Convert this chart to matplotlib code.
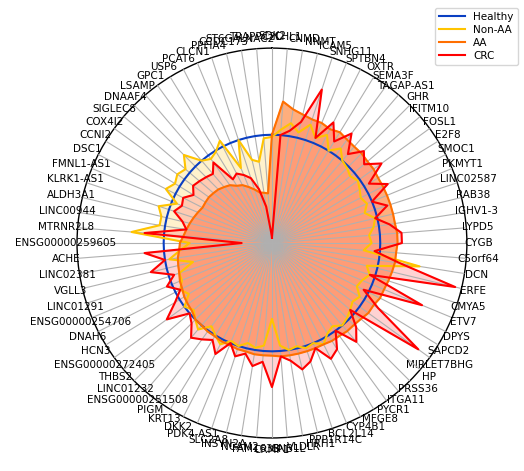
import numpy as np
import matplotlib
matplotlib.use("Agg")
import matplotlib.pyplot as plt

genes = [
    "SDK2", "CHL1", "CNMD", "NNMT", "ICAM5", "SNHG11", "SPTBN4", "OXTR", "SEMA3F", "TAGAP-AS1",
    "GHR", "IFITM10", "FOSL1", "E2F8", "SMOC1", "PKMYT1", "LINC02587", "RAB38", "IGHV1-3", "LYPD5",
    "CYGB", "C5orf64", "DCN", "ERFE", "CMYA5", "ETV7", "DPYS", "SAPCD2", "MIRLET7BHG", "HP",
    "PRSS36", "ITGA11", "PYCR1", "MFGE8", "CYP4B1", "BCL2L14", "PPP1R14C", "HRH1", "VLDLR", "GNB1L",
    "CRMP1", "FAM163B", "NCAM2", "INSYN2A", "SLC2A8", "PDK4-AS1", "DKK2", "KRT13", "PIGM", "ENSG00000251508",
    "LINC01232", "THBS2", "ENSG00000272405", "HCN3", "DNAH6", "ENSG00000254706", "LINC01291", "VGLL3", "LINC02381", "ACHE",
    "ENSG00000259605", "MTRNR2L8", "LINC00944", "ALDH3A1", "KLRK1-AS1", "FMNL1-AS1", "DSC1", "CCNI2", "COX4I2", "SIGLEC8",
    "DNAAF4", "LSAMP", "GPC1", "USP6", "PCAT6", "CLCN1", "PPFIA4", "CCDC173", "ST6GALNAC2", "TRAPPC2L",
]

healthy = [1.0] * len(genes)

non_aa = [
    0.98, 1.05, 1.12, 1.05, 1.15, 1.05, 1.12, 1.0, 1.08, 1.0,
    0.98, 0.95, 0.98, 0.95, 0.92, 0.95, 0.9, 0.98, 0.95, 0.9,
    0.92, 0.85, 1.38, 0.9, 0.95, 0.9, 0.88, 0.95, 0.92, 0.95,
    0.98, 1.0, 0.95, 0.98, 1.05, 1.0, 1.02, 0.98, 1.0, 0.95,
    0.7, 0.95, 0.98, 0.95, 1.0, 0.98, 1.05, 1.0, 0.95, 1.05,
    1.0, 0.95, 1.0, 0.9, 0.95, 0.9, 0.9, 0.75, 0.96, 0.85,
    0.76, 1.3, 1.05, 1.05, 1.1, 0.95, 1.1, 1.05, 1.08, 1.05,
    1.15, 1.0, 0.96, 0.99, 1.06, 0.75, 1.0, 0.79, 0.76, 0.97,
]

aa = [
    1.0, 1.31, 1.25, 1.22, 1.2, 1.2, 1.18, 1.2, 1.18, 1.17,
    1.17, 1.16, 1.16, 1.15, 1.15, 1.15, 1.15, 1.15, 1.15, 1.16,
    1.16, 1.15, 1.15, 1.14, 1.13, 1.12, 1.12, 1.1, 1.1, 1.08,
    1.07, 1.07, 1.06, 1.06, 1.05, 1.05, 1.05, 1.05, 1.05, 1.05,
    1.04, 1.04, 1.04, 1.03, 1.03, 1.02, 1.02, 1.01, 1.01, 1.0,
    1.0, 0.97, 0.96, 0.95, 0.93, 0.92, 0.9, 0.89, 0.88, 0.86,
    0.85, 0.82, 0.8, 0.78, 0.76, 0.74, 0.72, 0.72, 0.72, 0.71,
    0.7, 0.68, 0.66, 0.62, 0.6, 0.56, 0.52, 0.48, 0.47, 0.46,
]

crc = [
    0.05, 1.0, 1.05, 1.15, 1.49, 1.05, 1.25, 1.1, 1.25, 1.08,
    1.2, 1.12, 1.25, 1.05, 1.2, 1.0, 1.12, 0.98, 1.1, 1.2,
    1.2, 0.95, 1.2, 1.74, 0.95, 1.5, 0.95, 1.15, 1.67, 0.95,
    1.1, 1.2, 1.0, 1.15, 1.2, 1.05, 1.15, 1.2, 1.1, 1.05,
    1.33, 1.1, 1.15, 1.05, 1.1, 1.0, 1.15, 1.05, 1.1, 1.15,
    1.05, 1.0, 1.2, 1.05, 0.95, 1.05, 0.95, 1.15, 1.0, 1.18,
    0.28, 1.18, 0.8, 0.85, 0.95, 0.9, 0.92, 0.85, 0.9, 0.88,
    0.86, 0.84, 0.92, 0.69, 0.72, 0.68, 0.63, 0.51, 0.34, 0.1,
]

groups = [
    ("Healthy", healthy, "#0a3fc2", None, 0),
    ("Non-AA", non_aa, "#ffc400", "#fff0c4", 0.85),
    ("AA", aa, "#ff6f00", "#ff9a5c", 0.8),
    ("CRC", crc, "#ff0000", "#ff8080", 0.35),
]

n = len(genes)
angles = np.linspace(0, 2 * np.pi, n, endpoint=False)
closed = np.append(angles, angles[0])

fig = plt.figure(figsize=(5.24, 4.71), dpi=100)
ax = fig.add_axes([0.147, 0.07, 0.744, 0.828], polar=True)
ax.set_theta_offset(np.pi / 2)
ax.set_theta_direction(-1)

for name, vals, color, fill, alpha in groups:
    v = np.append(vals, vals[0])
    if fill is not None:
        ax.fill(closed, v, color=fill, alpha=alpha, zorder=1)
    ax.plot(closed, v, color=color, linewidth=1.5, label=name, zorder=3)

ax.set_ylim(0, 1.8)
ax.set_yticks([])
ax.set_xticks(angles)
ax.set_xticklabels(genes, fontsize=7.5)
ax.tick_params(axis="x", pad=-2)
ax.xaxis.grid(True, color="#b0b0b0", linewidth=0.8, zorder=2)
ax.set_axisbelow(False)
ax.spines["polar"].set_color("black")
ax.spines["polar"].set_linewidth(1.0)

fig.legend(loc="upper right", bbox_to_anchor=(0.998, 0.995), fontsize=7.5,
           handlelength=2.5, borderpad=0.4, labelspacing=0.3)

fig.savefig("out.png", dpi=100)
